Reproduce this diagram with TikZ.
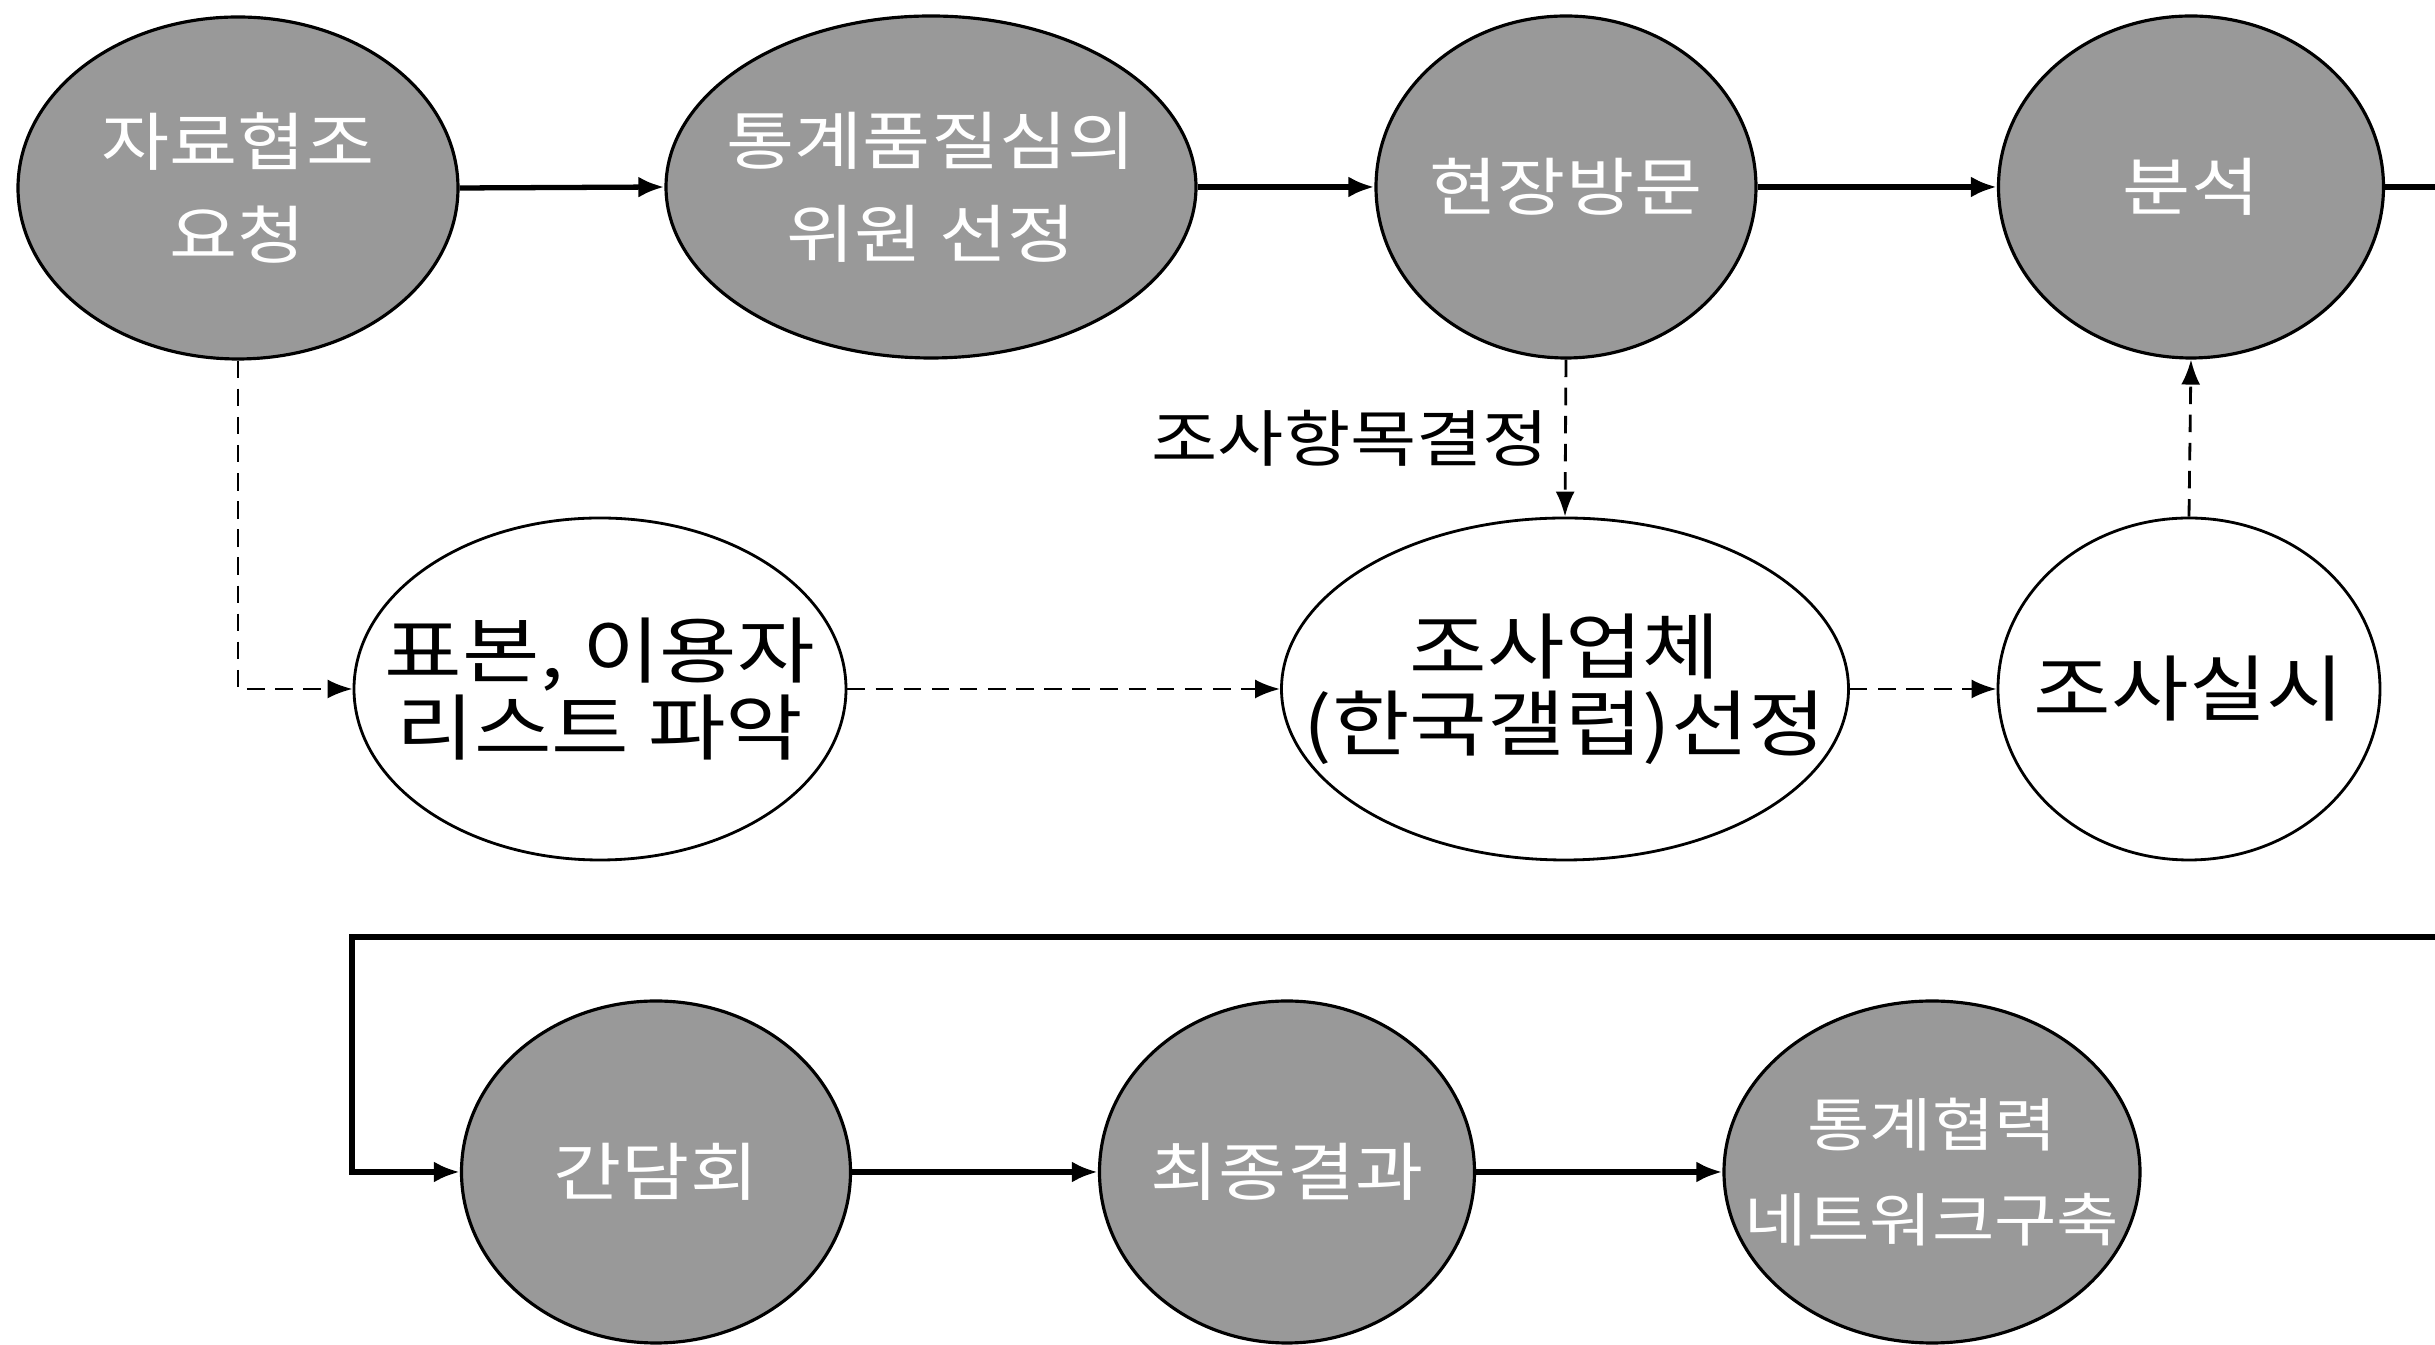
\documentclass[tikz,border=0pt]{standalone}
\usepackage{fontspec}
\newfontfamily\kr[FakeStretch=1.17]{Noto Sans CJK KR}
\usepackage{tikz}
\usetikzlibrary{arrows.meta,positioning,shapes.geometric}

\begin{document}
\begin{tikzpicture}[
    stage/.style={
        ellipse,
        draw,
        line width=0.9pt,
        fill=black!40,
        text=white,
        align=center,
        inner xsep=-1.5cm,
        inner ysep=0pt,
        minimum height=3.42cm,
        font=\kr\fontsize{18}{26.5}\selectfont
    },
    task/.style={
        ellipse,
        draw,
        line width=0.8pt,
        fill=white,
        align=center,
        inner xsep=-1.5cm,
        inner ysep=0pt,
        minimum height=3.42cm,
        font=\kr\fontsize{20.5}{22}\selectfont
    },
    arrow/.style={
        -{Latex[length=2.6mm,width=2.1mm]},
        line width=1.5pt
    },
    dasharrow/.style={
        -{Latex[length=2.5mm,width=1.9mm]},
        line width=0.8pt,
        dash pattern=on 5pt off 3pt
    }
]

\useasboundingbox (0,0) rectangle (24.35,13.45);
\clip (0,0) rectangle (24.35,13.45);

% Top row
\node[stage, minimum width=4.4cm] (jaryo) at (2.38,11.57)
{자료협조\\요청};

\node[stage, minimum width=5.3cm] (wiwon) at (9.31,11.58)
{통계품질심의\\위원 선정};

\node[stage, minimum width=3.8cm] (visit) at (15.66,11.58)
{현장방문};

\node[stage, minimum width=3.85cm] (analysis) at (21.91,11.58)
{분석};

% Middle row
\node[task, minimum width=4.92cm] (sample) at (6.00,6.56)
{표본, 이용자\\리스트 파악};

\node[task, minimum width=5.67cm] (agency) at (15.65,6.56)
{조사업체\\(한국갤럽)선정};

\node[task, minimum width=3.82cm] (survey) at (21.89,6.56)
{조사실시};

% Bottom row
\node[stage, minimum width=3.89cm] (meeting) at (6.56,1.73)
{간담회};

\node[stage, minimum width=3.75cm] (final) at (12.87,1.73)
{최종결과};

\node[stage, minimum width=4.16cm, font=\kr\fontsize{16.5}{27}\selectfont] (network) at (19.32,1.73)
{통계협력\\네트워크구축};

% Edge points
\coordinate (outtop) at (24.6,11.58);
\coordinate (outbot) at (24.6,4.08);
\coordinate (turn) at (3.52,4.08);

% Solid flow
\draw[arrow] (jaryo.east) -- (wiwon.west);
\draw[arrow] (wiwon.east) -- (visit.west);
\draw[arrow] (visit.east) -- (analysis.west);
\draw[line width=1.5pt] (analysis.east) -- (outtop);
\draw[arrow] (outbot) -- (turn) |- (meeting.west);
\draw[arrow] (meeting.east) -- (final.west);
\draw[arrow] (final.east) -- (network.west);

% Dashed flow
\draw[dasharrow] (jaryo.south) |- (sample.west);
\draw[dasharrow] (sample.east) -- (agency.west);
\draw[dasharrow] (agency.east) -- (survey.west);
\draw[dasharrow] (survey.north) -- (analysis.south);
\draw[dasharrow] (visit.south) -- (agency.north)
    node[midway, left=1pt, font=\kr\fontsize{17.5}{20}\selectfont] (items) {조사항목결정};

\end{tikzpicture}
\end{document}
